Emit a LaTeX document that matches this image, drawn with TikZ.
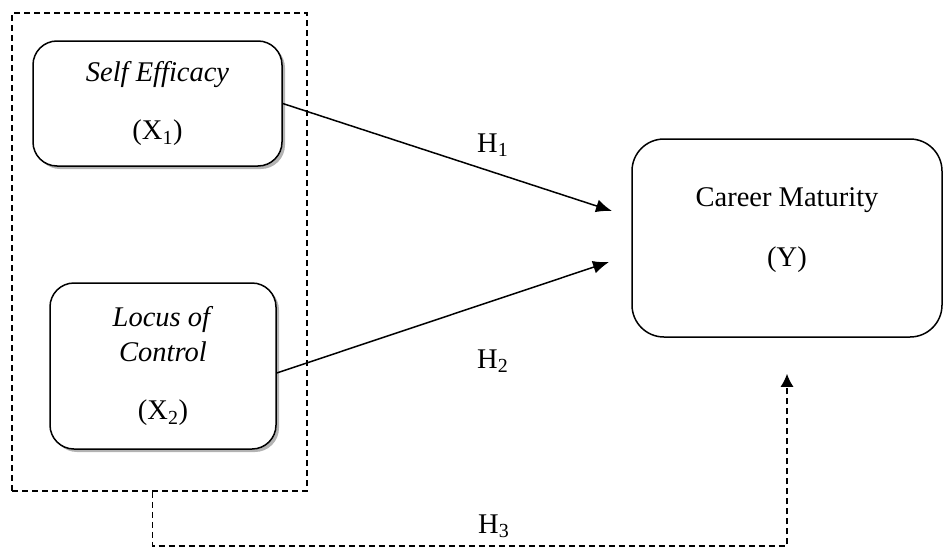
\documentclass[tikz,border=0pt]{standalone}
\usepackage{fontspec}
\setmainfont{Liberation Serif}
\usetikzlibrary{shadows,calc,arrows.meta}
\begin{document}
\begin{tikzpicture}[x=1pt,y=-1pt,
  every node/.style={font=\fontsize{28.5}{35}\selectfont, align=center},
  varbox/.style={draw, line width=1.5pt, rounded corners=24pt, inner sep=0pt, fill=white},
  shadowed/.style={drop shadow={shadow xshift=3pt, shadow yshift=-3pt, fill=black!50, opacity=0.6}},
  dashline/.style={line width=1.5pt, dash pattern=on 6pt off 4pt},
  link/.style={line width=1.5pt, -{Latex[length=16pt,width=13pt]}},
  hlab/.style={anchor=base west, inner sep=0pt}]
\useasboundingbox (0,0) rectangle (945,549);
\node[draw, dashline, minimum width=295pt, minimum height=478pt, inner sep=0pt] (grp) at (159.5,252) {};
\node[varbox, shadowed, minimum width=249pt, minimum height=125pt] (x1) at (157.5,103.5)
  {\textit{Self Efficacy}\\[23pt](X\textsubscript{1})};
\node[varbox, shadowed, minimum width=226pt, minimum height=166pt] (x2) at (163,366)
  {\textit{Locus of}\\\textit{Control}\\[23pt](X\textsubscript{2})};
\node[varbox, rounded corners=32pt, minimum width=310pt, minimum height=198pt] (y) at (787,238) {};
\node (ytxt) at (787,230) {Career Maturity\\[25pt](Y)};
\coordinate (t1) at (612,211);
\coordinate (t2) at (609,262);
\coordinate (t3) at ($(y.south)+(0,36)$);
\draw[link] (x1.east) -- (t1);
\draw[link] ($(x2.east)+(0,7)$) -- (t2);
\draw[dashline, -{Latex[length=13pt,width=13pt]}] ($(grp.south)+(-7,0)$) -- ++(0,54) -| (t3);
\node[hlab] (h1) at (477,152) {H\textsubscript{1}};
\node[hlab] (h2) at (477,368) {H\textsubscript{2}};
\node[hlab] (h3) at (478,533) {H\textsubscript{3}};
\end{tikzpicture}
\end{document}
